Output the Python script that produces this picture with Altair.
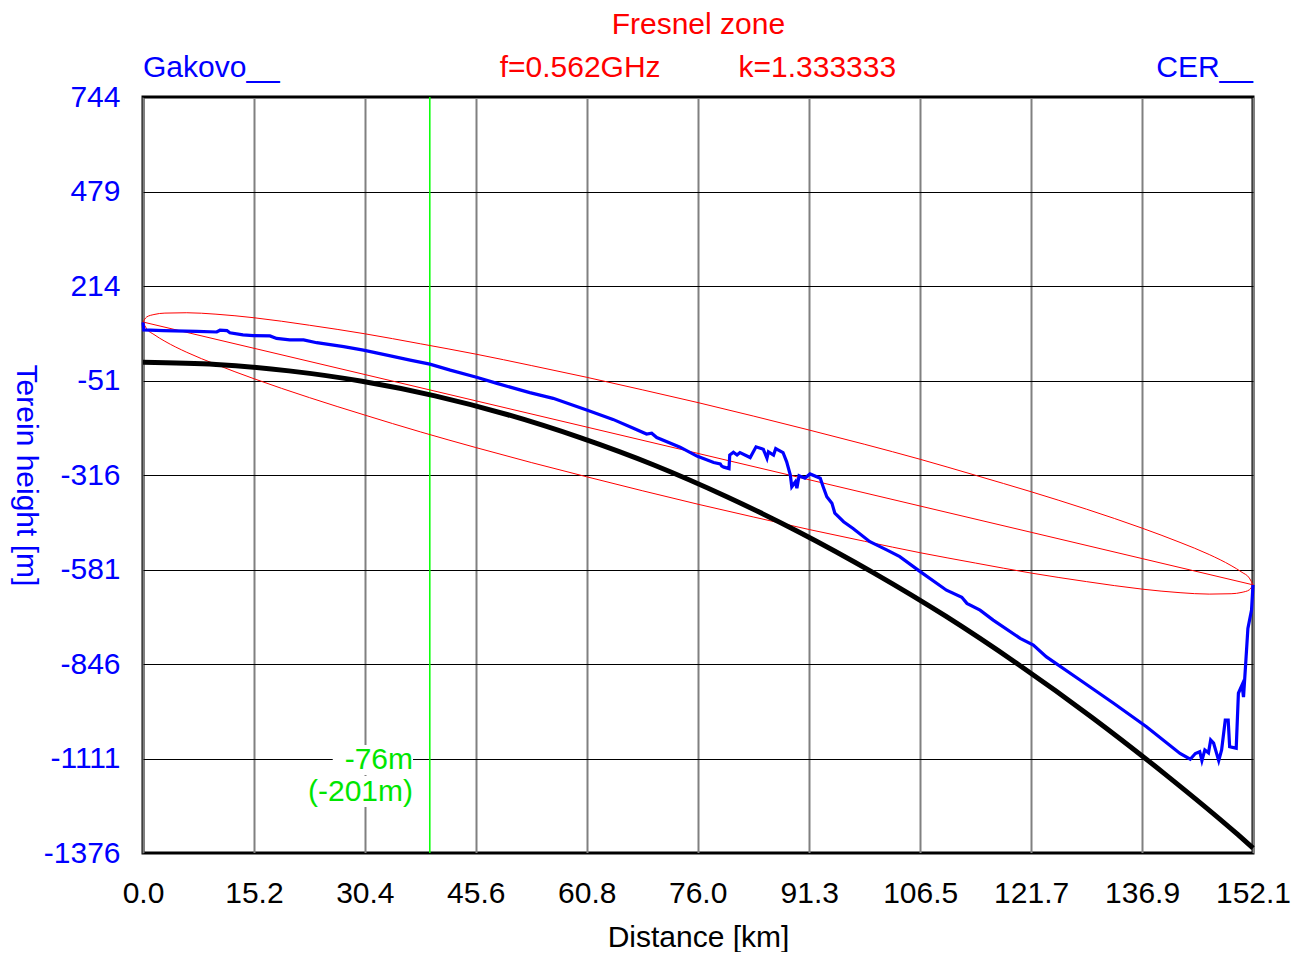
import altair as alt
import pandas as pd

# ---------------- data ----------------
TERRAIN_KM = [0, 0.1, 2.8, 7.4, 10.1, 10.55, 11.5, 11.9, 13.7, 15.1, 17.4, 18.3, 20.1, 22.0, 23.8,
              27.5, 30.2, 33.9, 36.6, 39.3, 42.1, 45.7, 48.5, 53.0, 56.2, 60.8, 64.4, 67.2, 69.0,
              69.7, 70.4, 73.6, 75.9, 78.2, 79.1, 79.3, 79.6, 80.3, 80.4, 80.9, 81.4, 81.8, 83.2,
              84.0, 85.0, 85.5, 85.7, 86.4, 86.7, 87.7, 88.2, 88.7, 88.9, 89.4, 89.6, 89.9, 90.7,
              91.4, 92.8, 93.2, 93.7, 94.4, 94.8, 96.0, 97.3, 99.6, 101.9, 103.7, 106.5, 110.1,
              112.2, 112.9, 114.7, 116.5, 120.2, 122.0, 123.8, 128.4, 133.0, 137.5, 142.1, 143.5,
              144.2, 144.8, 145.1, 145.5, 146.0, 146.3, 146.7, 147.4, 147.8, 148.3, 148.7, 148.9,
              149.8, 150.1, 150.6, 150.8, 151.1, 151.4, 151.9, 152.1]
TERRAIN_M = [112, 91, 89, 87, 85, 90, 89, 83, 77, 75, 74, 67, 63, 63, 55,
             44, 34, 18, 6, -5, -22, -42, -59, -85, -101, -134, -160, -185, -201,
             -199, -211, -238, -263, -281, -285, -291, -294, -298, -260, -252, -260, -253, -267,
             -237, -244, -269, -251, -260, -242, -253, -279, -316, -349, -335, -353, -318, -325,
             -313, -325, -349, -377, -395, -423, -447, -466, -503, -526, -545, -587, -639,
             -659, -676, -695, -723, -774, -793, -826, -891, -956, -1022, -1097, -1113,
             -1097, -1092, -1117, -1087, -1095, -1059, -1068, -1117, -1087, -1003, -1003, -1078,
             -1082, -928, -905, -939, -844, -746, -695, -624]

CURVE_KM = [0, 10, 20, 30, 40, 50, 60, 70, 80, 90, 100, 110, 120, 130, 140, 150, 152.1]
CURVE_M = [0, -6, -24, -53, -94, -147, -212, -288, -377, -477, -589, -712, -848, -995,
           -1154, -1324, -1362]

FRESNEL_KM = [0, 0.5, 1.5, 3, 6, 10, 15.2, 22.8, 30.4, 38, 45.6, 53.2, 60.8, 68.4, 76.05,
              83.7, 91.3, 98.9, 106.5, 114.1, 121.7, 129.3, 136.9, 142.1, 146.1, 149.1,
              150.6, 151.6, 152.1]
FRESNEL_UPPER = [113, 127, 134, 138, 139, 135, 125, 104, 80, 52, 23, -9, -42, -77, -113,
                 -151, -190, -230, -272, -317, -363, -412, -465, -505, -539, -570, -589,
                 -605, -624]
FRESNEL_LOWER = [113, 94, 78, 59, 28, -6, -46, -99, -148, -195, -239, -281, -321, -360, -398,
                 -434, -469, -502, -534, -563, -591, -615, -636, -646, -650, -649, -645,
                 -638, -624]

LOS_KM = [0, 152.1]
LOS_M = [113, -624]

X_TICKS = [0.0, 15.2, 30.4, 45.6, 60.8, 76.0, 91.3, 106.5, 121.7, 136.9, 152.1]
Y_TICKS = [-1376, -1111, -846, -581, -316, -51, 214, 479, 744]

MARKER_KM = 39.3
MARKER_LABELS = ["-76m", "(-201m)"]

TITLE = "Fresnel zone"
SITE_LEFT = "Gakovo__"
SITE_RIGHT = "CER__"
INFO_TEXTS = ["f=0.562GHz", "k=1.333333"]

# ---------------- styling ----------------
FONT = "Liberation Sans"
FS = 30
BLUE = "#0000ff"
RED = "#ff0000"
GREEN = "#00e600"

xs = alt.Scale(domain=[0, 152.1], nice=False, zero=False)
ys = alt.Scale(domain=[-1376, 744], nice=False, zero=False)

x_axis = alt.Axis(values=X_TICKS, format=".1f", labelFont=FONT, labelFontSize=FS,
                  labelColor="black", labelPadding=25, labelFlush=False, labelOverlap=False,
                  ticks=False, tickSize=0, domain=False, grid=True, gridColor="#808080",
                  gridWidth=2, title="Distance [km]", titleFont=FONT, titleFontSize=FS,
                  titleFontWeight="normal", titleColor="black", titleX=555, titleY=93,
                  titleAlign="center", titleBaseline="alphabetic")
y_axis = alt.Axis(values=Y_TICKS, labelExpr="'' + datum.value", labelFont=FONT,
                  labelFontSize=FS, labelColor=BLUE, labelPadding=23, labelOverlap=False,
                  labelFlush=False, ticks=False, tickSize=0, domain=False, grid=True,
                  gridColor="#000000", gridWidth=1, title="Terein height [m]", titleFont=FONT,
                  titleFontSize=FS, titleFontWeight="normal", titleColor=BLUE, titleAngle=90,
                  titleX=-118, titleY=378, titleAlign="center", titleBaseline="middle")

X = alt.X("km:Q", scale=xs, axis=x_axis)
Y = alt.Y("m:Q", scale=ys, axis=y_axis)

terrain_df = pd.DataFrame({"km": TERRAIN_KM, "m": TERRAIN_M, "i": range(len(TERRAIN_KM))})
curve_df = pd.DataFrame({"km": CURVE_KM, "m": CURVE_M})
fres_df = pd.concat([
    pd.DataFrame({"km": FRESNEL_KM, "m": FRESNEL_UPPER, "side": "upper"}),
    pd.DataFrame({"km": FRESNEL_KM, "m": FRESNEL_LOWER, "side": "lower"}),
])
los_df = pd.DataFrame({"km": LOS_KM, "m": LOS_M})
marker_df = pd.DataFrame({"km": [MARKER_KM]})

# label annotation (right-aligned text beside the marker, with white backing)
ann_df = pd.DataFrame({
    "text": MARKER_LABELS,
    "km": [37.0, 37.0],
    "m": [-1115, -1205],
    "km2": [26.0, 20.0],
    "m_top": [-1073, -1160],
    "m_bot": [-1157, -1247],
})

grid_layer = alt.Chart(curve_df).mark_point(opacity=0).encode(x=X, y=Y)

green_rule = alt.Chart(marker_df).mark_rule(color="#00ff00", strokeWidth=1.5).encode(x=X)

fresnel = alt.Chart(fres_df).mark_line(color=RED, strokeWidth=1, interpolate="monotone").encode(
    x=X, y=Y, detail="side:N")
los = alt.Chart(los_df).mark_line(color=RED, strokeWidth=1).encode(x=X, y=Y)

curve = alt.Chart(curve_df).mark_line(color="black", strokeWidth=5,
                                      interpolate="monotone").encode(x=X, y=Y)

terrain = alt.Chart(terrain_df).mark_line(color=BLUE, strokeWidth=3.2).encode(
    x=X, y=Y, order="i:Q")

ann_box = alt.Chart(ann_df).mark_rect(color="white").encode(
    x=X, x2="km2:Q",
    y=alt.Y("m_top:Q", scale=ys, axis=y_axis), y2="m_bot:Q")
ann_text = alt.Chart(ann_df).mark_text(color=GREEN, font=FONT, fontSize=FS, align="right",
                                       baseline="middle").encode(x=X, y=Y, text="text:N")

top_left = alt.Chart(pd.DataFrame({"km": [0.0], "t": [SITE_LEFT]})).mark_text(
    color=BLUE, font=FONT, fontSize=FS, align="left", baseline="alphabetic").encode(
    x=X, y=alt.value(-20), text="t:N")
top_right = alt.Chart(pd.DataFrame({"km": [152.1], "t": [SITE_RIGHT]})).mark_text(
    color=BLUE, font=FONT, fontSize=FS, align="right", baseline="alphabetic").encode(
    x=X, y=alt.value(-20), text="t:N")
top_info = alt.Chart(pd.DataFrame({"km": [59.9, 92.4], "t": INFO_TEXTS})).mark_text(
    color=RED, font=FONT, fontSize=FS, align="center", baseline="alphabetic").encode(
    x=X, y=alt.value(-20), text="t:N")
top_title = alt.Chart(pd.DataFrame({"km": [76.1], "t": [TITLE]})).mark_text(
    color=RED, font=FONT, fontSize=FS, align="center", baseline="alphabetic").encode(
    x=X, y=alt.value(-63), text="t:N")

chart = alt.layer(
    grid_layer, green_rule, fresnel, los, curve, terrain, ann_box, ann_text,
    top_left, top_right, top_info, top_title
).properties(
    width=1110, height=756,
    autosize=alt.AutoSizeParams(type="none"),
    padding={"left": 135, "top": 89, "right": 47, "bottom": 99},
    background="white",
).configure_view(stroke="black", strokeWidth=3)

chart.save("out.html", embed_options={"renderer": "svg", "actions": False})
